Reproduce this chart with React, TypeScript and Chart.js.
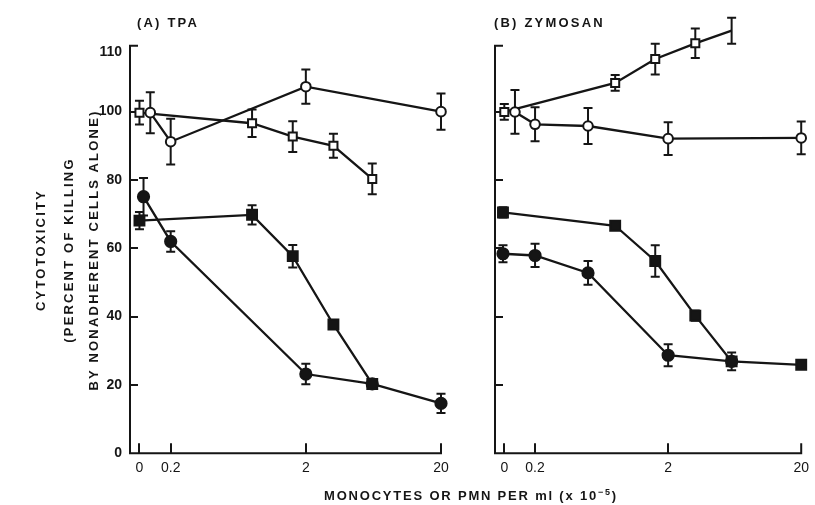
import React, { useEffect, useRef } from 'react';
import { Chart, registerables } from 'chart.js';

Chart.register(...registerables);

// ---- axis ticks ----
const xTickValues = [0, 0.2, 2, 20];
const xTickLabels = ['0', '0.2', '2', '20'];
const yTickValues = [0, 20, 40, 60, 80, 100, 117.3];
const yTickLabels = ['0', '20', '40', '60', '80', '100', '110'];
const yInnerTicks = [20, 40, 60, 80, 100];

// ---- Panel A: TPA (cells per ml x 10^-5, cytotoxicity %) ----
const tpaOpenCircleX = [0, 0.2, 2, 20];
const tpaOpenCircleY = [99.7, 91.2, 107.3, 100];
const tpaOpenCircleErr = [6, 6.7, 5, 5.3];

const tpaOpenSquareX = [0, 0.8, 1.6, 3.2, 6.2];
const tpaOpenSquareY = [99.7, 96.6, 92.7, 90, 80.3];
const tpaOpenSquareErr = [3.5, 4, 4.5, 3.5, 4.5];

const tpaFilledCircleX = [0, 0.2, 2, 6.2, 20];
const tpaFilledCircleY = [75.1, 62, 23.2, 20.3, 14.6];
const tpaFilledCircleErr = [5.5, 3, 3, 0, 2.8];

const tpaFilledSquareX = [0, 0.8, 1.6, 3.2, 6.2];
const tpaFilledSquareY = [68.1, 69.8, 57.7, 37.7, 20.3];
const tpaFilledSquareErr = [2.5, 2.8, 3.3, 1.2, 1];

// ---- Panel B: Zymosan ----
const zymOpenSquareX = [0, 0.8, 1.6, 3.2, 6.0];
const zymOpenSquareY = [99.9, 108.4, 115.4, 120, 123.7];
const zymOpenSquareErr = [2.3, 2.3, 4.5, 4.3, 3.8];

const zymOpenCircleX = [0, 0.2, 0.5, 2, 20];
const zymOpenCircleY = [99.9, 96.3, 95.8, 92.1, 92.3];
const zymOpenCircleErr = [6.4, 5, 5.3, 4.8, 4.8];

const zymFilledCircleX = [0, 0.2, 0.5, 2, 6.0];
const zymFilledCircleY = [58.4, 57.9, 52.8, 28.7, 26.9];
const zymFilledCircleErr = [2.5, 3.4, 3.5, 3.2, 0];

const zymFilledSquareX = [0, 0.8, 1.6, 3.2, 6.0, 20];
const zymFilledSquareY = [70.5, 66.6, 56.3, 40.3, 26.9, 25.9];
const zymFilledSquareErr = [1.5, 1, 4.6, 1.5, 2.6, 1.2];

// ---- scale helpers ----
const ZERO_POS = -0.93; // where the "0" control is drawn on the log axis
const X_MIN = -1;
const X_MAX = Math.log10(20);
const Y_MAX = 119.3;

function xPos(c: number, nudge = 0): number {
  return c === 0 ? ZERO_POS + nudge : Math.log10(c);
}

const INK = '#151515';

type Kind = 'openCircle' | 'openSquare' | 'filledCircle' | 'filledSquare';

function makeDataset(xs: number[], ys: number[], errs: number[], kind: Kind, zeroNudge = 0) {
  const isOpen = kind === 'openCircle' || kind === 'openSquare';
  const isSquare = kind === 'openSquare' || kind === 'filledSquare';
  return {
    data: xs.map((c, i) => ({ x: xPos(c, zeroNudge), y: ys[i] })),
    errors: errs,
    showLine: true,
    borderColor: INK,
    borderWidth: 2.3,
    tension: 0,
    fill: false,
    clip: false,
    pointStyle: isSquare ? 'rect' : 'circle',
    pointRadius: isSquare ? (isOpen ? 5.7 : 7) : isOpen ? 4.8 : 5.6,
    pointBorderWidth: 2,
    pointBorderColor: INK,
    pointBackgroundColor: isOpen ? '#ffffff' : INK,
    pointHoverRadius: 0,
  };
}

const axesPlugin = {
  id: 'customAxes',
  beforeDatasetsDraw(chart: any) {
    const { ctx, chartArea } = chart;
    const { left, right, top, bottom } = chartArea;
    const xs = chart.scales.x;
    const ys = chart.scales.y;
    ctx.save();
    ctx.strokeStyle = INK;
    ctx.lineWidth = 2;
    ctx.lineJoin = 'miter';
    ctx.beginPath();
    ctx.moveTo(left + 8, top);
    ctx.lineTo(left, top);
    ctx.lineTo(left, bottom);
    ctx.lineTo(right, bottom);
    ctx.lineTo(right, bottom - 10);
    ctx.stroke();
    ctx.beginPath();
    yInnerTicks.forEach((v) => {
      const py = Math.round(ys.getPixelForValue(v));
      ctx.moveTo(left, py);
      ctx.lineTo(left + 8, py);
    });
    xTickValues.slice(0, -1).forEach((v) => {
      const px = Math.round(xs.getPixelForValue(xPos(v)));
      ctx.moveTo(px, bottom);
      ctx.lineTo(px, bottom - 10);
    });
    ctx.stroke();

    // error bars
    ctx.lineWidth = 2;
    chart.data.datasets.forEach((ds: any, di: number) => {
      const meta = chart.getDatasetMeta(di);
      meta.data.forEach((pt: any, j: number) => {
        const e = ds.errors ? ds.errors[j] : 0;
        if (!e) return;
        const val = ds.data[j].y;
        const yT = ys.getPixelForValue(val + e);
        const yB = ys.getPixelForValue(val - e);
        const px = pt.x;
        ctx.beginPath();
        ctx.moveTo(px, yT);
        ctx.lineTo(px, yB);
        ctx.moveTo(px - 4.5, yT);
        ctx.lineTo(px + 4.5, yT);
        ctx.moveTo(px - 4.5, yB);
        ctx.lineTo(px + 4.5, yB);
        ctx.stroke();
      });
    });
    ctx.restore();
  },
};

function panelTitlePlugin(text: string, x: number, y: number) {
  return {
    id: 'panelTitle',
    afterDraw(chart: any) {
      const ctx = chart.ctx;
      ctx.save();
      ctx.fillStyle = INK;
      ctx.font = 'bold 13px "Liberation Sans", Arial, sans-serif';
      (ctx as any).letterSpacing = '2.2px';
      ctx.textBaseline = 'middle';
      ctx.textAlign = 'left';
      ctx.fillText(text, x, y);
      ctx.restore();
    },
  };
}

function buildConfig(datasets: any[], opts: { yWidth: number; padRight: number; showYLabels: boolean; title: any }) {
  return {
    type: 'scatter' as const,
    data: { datasets },
    plugins: [axesPlugin, opts.title],
    options: {
      responsive: false,
      animation: false as const,
      devicePixelRatio: 1,
      events: [],
      layout: { padding: { left: 0, right: opts.padRight, top: 45.7, bottom: 0 } },
      plugins: {
        legend: { display: false },
        tooltip: { enabled: false },
        title: { display: false },
      },
      scales: {
        x: {
          type: 'linear' as const,
          min: X_MIN,
          max: X_MAX,
          grid: { display: false, drawTicks: false },
          border: { display: false },
          afterBuildTicks(scale: any) {
            scale.ticks = xTickValues.map((v) => ({ value: xPos(v) }));
          },
          afterFit(scale: any) {
            scale.height = 505 - 453.3;
          },
          ticks: {
            autoSkip: false,
            maxRotation: 0,
            padding: 6,
            color: INK,
            font: { family: '"Liberation Sans", Arial, sans-serif', size: 14 },
            callback: (_v: any, i: number) => xTickLabels[i],
          },
        },
        y: {
          type: 'linear' as const,
          min: 0,
          max: Y_MAX,
          grid: { display: false, drawTicks: false },
          border: { display: false },
          afterBuildTicks(scale: any) {
            scale.ticks = yTickValues.map((v) => ({ value: v }));
          },
          afterFit(scale: any) {
            scale.width = opts.yWidth;
          },
          ticks: {
            display: opts.showYLabels,
            autoSkip: false,
            padding: 8,
            color: INK,
            font: { family: '"Liberation Sans", Arial, sans-serif', size: 14, weight: 'bold' as const },
            callback: (_v: any, i: number) => yTickLabels[i],
          },
        },
      },
    },
  };
}

export default function App() {
  const refA = useRef<HTMLCanvasElement | null>(null);
  const refB = useRef<HTMLCanvasElement | null>(null);

  useEffect(() => {
    const dsA = [
      makeDataset(tpaOpenCircleX, tpaOpenCircleY, tpaOpenCircleErr, 'openCircle', 0.08),
      makeDataset(tpaOpenSquareX, tpaOpenSquareY, tpaOpenSquareErr, 'openSquare'),
      makeDataset(tpaFilledCircleX, tpaFilledCircleY, tpaFilledCircleErr, 'filledCircle', 0.03),
      makeDataset(tpaFilledSquareX, tpaFilledSquareY, tpaFilledSquareErr, 'filledSquare'),
    ];
    const dsB = [
      makeDataset(zymOpenCircleX, zymOpenCircleY, zymOpenCircleErr, 'openCircle', 0.08),
      makeDataset(zymOpenSquareX, zymOpenSquareY, zymOpenSquareErr, 'openSquare'),
      makeDataset(zymFilledCircleX, zymFilledCircleY, zymFilledCircleErr, 'filledCircle', -0.01),
      makeDataset(zymFilledSquareX, zymFilledSquareY, zymFilledSquareErr, 'filledSquare', -0.01),
    ];
    const chartA = new Chart(
      refA.current as HTMLCanvasElement,
      buildConfig(dsA, { yWidth: 130, padRight: 29, showYLabels: true, title: panelTitlePlugin('(A) TPA', 137, 23) }) as any
    );
    const chartB = new Chart(
      refB.current as HTMLCanvasElement,
      buildConfig(dsB, { yWidth: 25, padRight: 12, showYLabels: false, title: panelTitlePlugin('(B) ZYMOSAN', 24, 23) }) as any
    );
    return () => {
      chartA.destroy();
      chartB.destroy();
    };
  }, []);

  const font = '"Liberation Sans", Arial, sans-serif';
  const yTitleStyle = (x: number): React.CSSProperties => ({
    position: 'absolute',
    left: x,
    top: 250,
    transform: 'translate(-50%, -50%) rotate(-90deg)',
    whiteSpace: 'nowrap',
    fontFamily: font,
    fontWeight: 'bold',
    fontSize: 13,
    letterSpacing: '2.2px',
    color: INK,
  });

  return (
    <div style={{ position: 'fixed', left: 0, top: 0, width: 815, height: 505, background: '#fff', overflow: 'hidden' }}>
      <canvas ref={refA} width={470} height={505} style={{ position: 'absolute', left: 0, top: 0, width: 470, height: 505 }} />
      <canvas ref={refB} width={345} height={505} style={{ position: 'absolute', left: 470, top: 0, width: 345, height: 505 }} />
      <div style={yTitleStyle(40)}>CYTOTOXICITY</div>
      <div style={yTitleStyle(68)}>(PERCENT OF KILLING</div>
      <div style={yTitleStyle(93)}>BY NONADHERENT CELLS ALONE)</div>
      <div
        style={{
          position: 'absolute',
          left: 471,
          top: 495,
          transform: 'translate(-50%, -50%)',
          whiteSpace: 'nowrap',
          fontFamily: font,
          fontWeight: 'bold',
          fontSize: 13,
          letterSpacing: '1.8px',
          color: INK,
        }}
      >
        MONOCYTES OR PMN PER ml (x 10<sup style={{ fontSize: 9, verticalAlign: 'super' }}>−5</sup>)
      </div>
    </div>
  );
}
